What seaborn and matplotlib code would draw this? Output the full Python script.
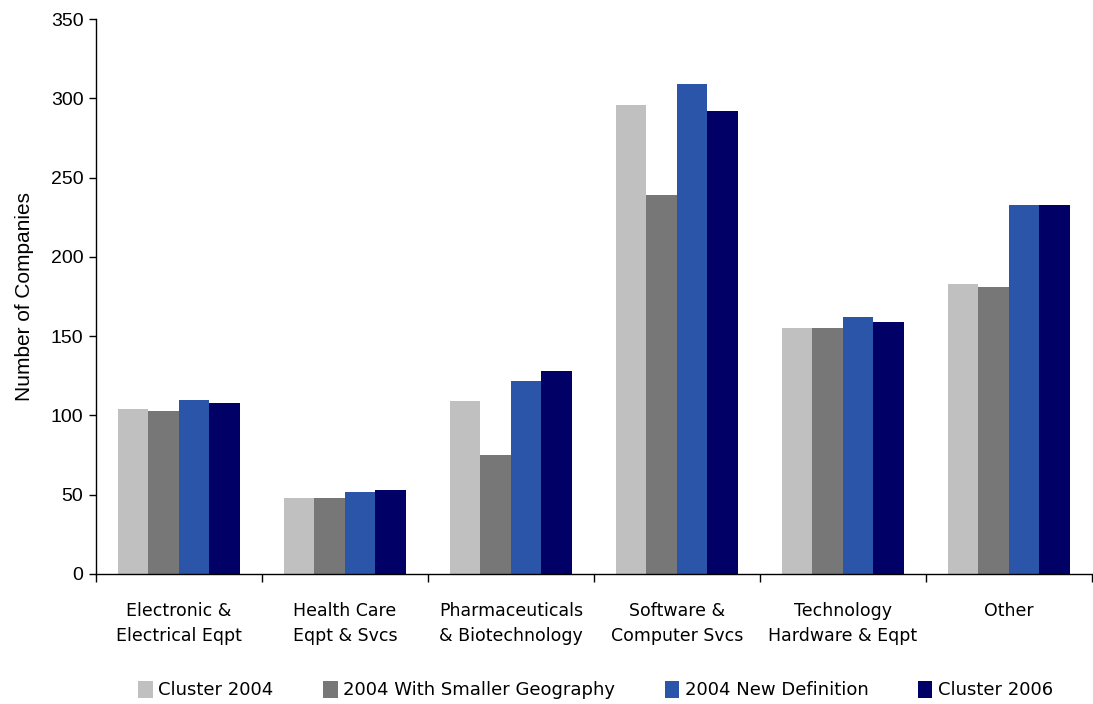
import matplotlib
matplotlib.use("Agg")
import matplotlib.pyplot as plt
from matplotlib.patches import Patch
import numpy as np
import pandas as pd
import seaborn as sns

categories = [
    "Electronic &\nElectrical Eqpt",
    "Health Care\nEqpt & Svcs",
    "Pharmaceuticals\n& Biotechnology",
    "Software &\nComputer Svcs",
    "Technology\nHardware & Eqpt",
    "Other",
]
series_names = ["Cluster 2004", "2004 With Smaller Geography",
                "2004 New Definition", "Cluster 2006"]
cluster_2004 = [104, 48, 109, 296, 155, 183]
smaller_geo_2004 = [103, 48, 75, 239, 155, 181]
new_def_2004 = [110, 52, 122, 309, 162, 233]
cluster_2006 = [108, 53, 128, 292, 159, 233]
colors = ["#C0C0C0", "#777777", "#2A55A8", "#000066"]
y_ticks = [0, 50, 100, 150, 200, 250, 300, 350]

values = [cluster_2004, smaller_geo_2004, new_def_2004, cluster_2006]
df = pd.DataFrame({
    "Category": np.repeat([categories], len(series_names), axis=0).ravel(),
    "Series": np.repeat(series_names, len(categories)),
    "Count": np.concatenate(values),
})

sns.set_theme(style="white")
plt.rcParams["font.family"] = ["DejaVu Sans"]
plt.rcParams["text.color"] = "black"
plt.rcParams["axes.labelcolor"] = "black"
plt.rcParams["xtick.color"] = "black"
plt.rcParams["ytick.color"] = "black"

fig = plt.figure(figsize=(10.93, 7.04), dpi=100)
ax = fig.add_axes([0.0878, 0.1847, 0.911, 0.788])

sns.barplot(data=df, x="Category", y="Count", hue="Series",
            order=categories, hue_order=series_names, palette=colors,
            width=0.735, gap=0, saturation=1, errorbar=None,
            linewidth=0, legend=False, ax=ax)

ax.set_xlim(-0.5, len(categories) - 0.5)
ax.set_ylim(0, 350)
ax.set_yticks(y_ticks)
ax.set_yticklabels([str(t) for t in y_ticks], fontsize=14,
                   family="Liberation Sans")
ax.set_ylabel("Number of Companies", fontsize=15, family="Liberation Sans",
              labelpad=12)
ax.set_xlabel("")

# category labels centred under groups, tick marks on group boundaries
ax.set_xticks(range(len(categories)))
ax.set_xticklabels(categories, fontsize=12.5, linespacing=1.55)
ax.set_xticks(np.arange(-0.5, len(categories)), minor=True)
ax.tick_params(axis="x", which="major", length=0, pad=20)
ax.tick_params(axis="x", which="minor", length=6, width=1, color="black",
               direction="out", bottom=True)
ax.tick_params(axis="y", length=5, width=1, color="black", direction="out",
               left=True, pad=4)

for side in ["top", "right"]:
    ax.spines[side].set_visible(False)
for side in ["left", "bottom"]:
    ax.spines[side].set_color("black")
    ax.spines[side].set_linewidth(1)

handles = [Patch(facecolor=c, edgecolor="none") for c in colors]
fig.legend(handles, series_names, loc="center", ncol=4,
           bbox_to_anchor=(0.545, 0.02), frameon=False, fontsize=13,
           handlelength=0.8, handleheight=1.1, handletextpad=0.3,
           columnspacing=2.75)

fig.savefig("out.png", dpi=100)
